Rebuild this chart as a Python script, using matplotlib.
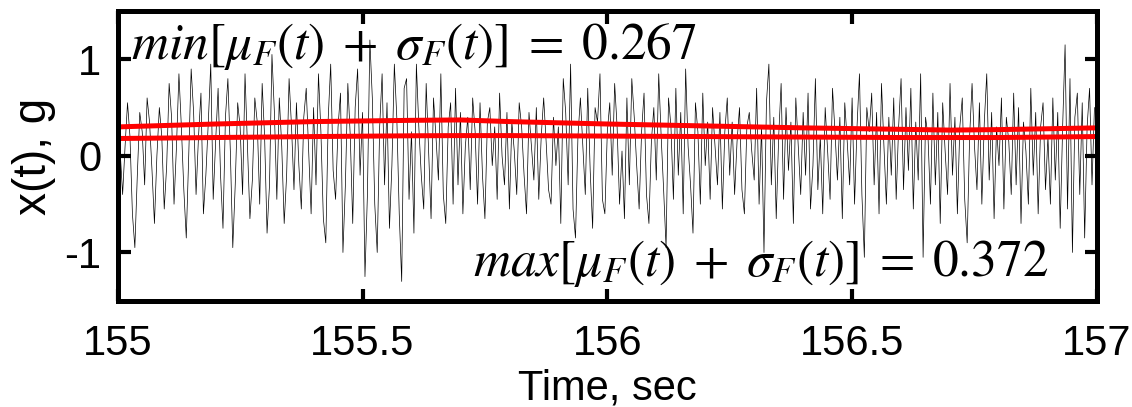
import numpy as np
import matplotlib
matplotlib.use("Agg")
import matplotlib.pyplot as plt

# -------------------------
# Response record, 155-157 s window
# -------------------------
fs = 200                    # sampling rate (Hz)
t0 = 155.0                  # start of window (s)

x_g = [
    0.3, 0.05, -0.4, 0.1, 0.55, 0.2, -0.6, -0.95, -0.2, 0.45, 0.25, -0.3, 0.6, 0.35, -0.15, -0.7, 0.0, 0.5, 0.2, -0.55,
    -0.1, 0.75, 0.4, -0.5, 0.1, 0.85, 0.3, -0.35, -0.85, 0.0, 0.9, 0.45, -0.4, 0.2, 0.65, -0.6, -0.2, 0.35, 0.95, -0.45,
    0.15, 0.7, -0.2, -0.75, 0.4, 0.8, 0.05, -0.95, -0.3, 0.55, 0.3, -0.4, 0.85, 0.1, -0.65, -0.25, 0.6, 0.35, -0.5, 0.75,
    0.2, -0.8, -0.3, 1.05, 0.45, -0.45, 0.6, 0.1, -0.7, -0.2, 0.8, 0.3, -0.35, 0.55, -0.1, -0.55, 0.4, 0.7, 0.05, -0.6,
    0.5, -0.3, 0.85, 0.25, -0.65, -0.9, 0.4, 0.95, -0.15, -0.45, 0.3, 0.65, -1.0, -0.3, 0.75, 0.2, -0.7, 0.5, 0.9, -0.2,
    0.45, -1.25, -0.4, 1.2, 0.6, -0.5, -1.0, 0.3, 0.85, -0.3, 0.55, -0.75, -0.1, 0.95, 0.4, -0.6, -1.3, 0.7, 0.8, -0.45,
    0.25, -0.8, 0.95, 0.3, -0.2, -0.55, 0.75, 0.05, -0.65, 0.6, 0.2, -0.25, 0.85, -0.4, -0.7, 0.3, 0.55, -0.5, 0.7, -0.3,
    0.45, -0.6, 0.1, 0.4, -0.35, 0.6, 0.25, -0.5, 0.55, -0.2, -0.65, 0.35, 0.5, -0.1, 0.3, -0.45, 0.65, 0.0, -0.3, 0.45,
    -0.55, 0.35, 0.05, -0.4, 0.55, 0.3, -0.2, -0.6, 0.45, 0.1, -0.25, 0.5, -0.45, 0.2, 0.6, 0.15, -0.35, -0.5, 0.4, -0.1,
    0.3, -0.7, 0.8, 0.45, -0.3, 0.95, -0.55, -0.85, 0.2, 0.6, 0.1, -0.4, 0.7, -0.15, -0.75, 0.5, 0.35, 0.85, -0.45, -0.6,
    0.25, 0.55, -0.2, 0.75, 0.3, -0.5, 0.05, -0.65, 0.6, -0.3, 0.8, 0.4, -0.1, -0.55, 0.25, 0.65, -0.4, -0.7, 0.15, 0.5,
    -0.25, 0.85, 0.2, -0.35, -0.95, 0.6, 0.3, -0.45, 0.7, -0.2, 0.45, -0.6, 0.9, 0.1, -0.3, -0.8, 0.55, 0.25, -0.5, 0.65,
    -0.1, 0.35, -0.45, 0.5, 0.1, -0.3, 0.45, -0.55, 0.25, 0.6, -0.2, 0.35, -0.4, 0.15, 0.5, -0.35, -0.6, 0.3, 0.45, 0.05,
    -0.25, 0.7, -0.5, 0.3, -1.0, 0.55, 0.95, -0.3, 0.4, -0.65, 0.2, 0.75, -0.45, 0.5, -0.15, 0.35, -0.7, 0.6, 0.1, -0.4,
    0.45, -0.2, 0.65, -0.55, -0.1, 0.8, -0.35, 0.2, -0.6, 0.5, 0.05, -0.45, 0.7, 0.25, -0.25, 0.4, -0.65, 0.55, 0.15, -0.3,
    0.6, -0.5, 0.3, 0.85, -0.4, -1.05, 0.5, 0.25, 0.65, -0.3, 0.45, -0.6, 0.75, 0.1, -0.5, 0.4, -0.2, 0.6, -0.45, 0.3,
    0.8, -0.35, 0.5, -0.15, 0.7, -0.55, 0.35, -0.25, 0.85, -1.05, 0.4, 0.2, -0.5, 0.65, -0.3, 0.45, -0.7, 0.55, 0.05, -0.4,
    0.75, -0.2, 0.4, -0.6, 0.3, 0.6, -0.45, -0.9, 0.2, 0.75, 0.1, -0.35, 0.55, -0.5, 0.35, 0.85, -0.25, 0.45, -0.65, 0.3,
    -0.1, 0.6, -0.55, 0.4, 0.15, -0.4, 0.65, -0.3, 0.5, -0.7, 0.35, 0.05, -0.5, 0.7, -0.2, 0.45, -0.6, 0.3, 0.55, -0.35,
    0.2, -0.5, 0.6, -0.25, 0.45, -0.75, 0.3, 1.15, -0.55, 0.8, -1.0, 0.4, 0.65, -0.4, 0.55, -0.85, 0.3, 0.7, -0.3, 0.5,
]

# mean and mean+std envelopes of the ensemble
t_env = [155.0, 155.2, 155.4, 155.6, 155.7, 155.8, 156.0, 156.2, 156.4, 156.6, 156.7, 156.8, 157.0]
mu_plus_sigma = [0.300, 0.330, 0.355, 0.368, 0.372, 0.355, 0.330, 0.310, 0.290, 0.275, 0.267, 0.272, 0.290]
mu = [0.180, 0.190, 0.200, 0.208, 0.210, 0.210, 0.205, 0.200, 0.195, 0.190, 0.190, 0.190, 0.200]

min_label = r'$min[\mu_F(t)\;+\;\sigma_F(t)]\;=\;0.267$'
max_label = r'$max[\mu_F(t)\;+\;\sigma_F(t)]\;=\;0.372$'

x_ticks = [155, 155.5, 156, 156.5, 157]
x_ticklabels = ['155', '155.5', '156', '156.5', '157']
y_ticks = [-1, 0, 1]
y_ticklabels = ['-1', '0', '1']

t = t0 + np.arange(len(x_g)) / fs

# -------------------------
# Plot
# -------------------------
plt.rcParams['font.family'] = ['Liberation Sans', 'DejaVu Sans']
plt.rcParams['mathtext.fontset'] = 'stix'
plt.rcParams['axes.unicode_minus'] = False

fig = plt.figure(figsize=(11.32, 4.07), dpi=100)
ax = fig.add_axes([0.104, 0.261, 0.865, 0.712])

ax.plot(t, x_g, color='k', linewidth=0.5)
ax.plot(t_env, mu_plus_sigma, color='r', linewidth=3.6)
ax.plot(t_env, mu, color='r', linewidth=3.6)

ax.text(155.027, 1.13, min_label, fontsize=37, va='center', ha='left')
ax.text(156.9, -1.11, max_label, fontsize=37, va='center', ha='right')

ax.set_xlim(155, 157)
ax.set_ylim(-1.5, 1.5)
ax.set_xticks(x_ticks)
ax.set_xticklabels(x_ticklabels)
ax.set_yticks(y_ticks)
ax.set_yticklabels(y_ticklabels)
ax.tick_params(direction='in', length=9, width=3, labelsize=30,
               top=True, right=True, pad=12)
ax.tick_params(axis='x', pad=17)
for s in ax.spines.values():
    s.set_linewidth(3.6)

ax.set_xlabel('Time, sec', fontsize=30, labelpad=3)
ax.set_ylabel('x(t), g', fontsize=33, labelpad=6)

fig.savefig('out.png', dpi=100)
